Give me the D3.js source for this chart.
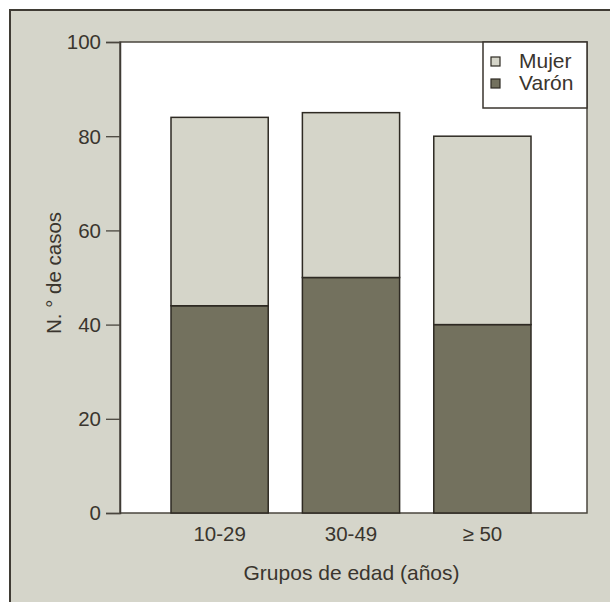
<!DOCTYPE html>
<html>
<head>
<meta charset="utf-8">
<script src="https://cdn.jsdelivr.net/npm/d3@7"></script>
<style>
  html, body { margin: 0; padding: 0; background: #ffffff; }
  svg { display: block; }
  text { font-family: "Liberation Sans", Arial, Helvetica, sans-serif; fill: #3a352e; }
</style>
</head>
<body>
<svg id="chart" width="610" height="602"></svg>
<script>
// ---- data ----
const categories = ["10-29", "30-49", "\u2265 50"];
const varon = [44, 50, 40];
const mujer = [40, 35, 40];
const seriesNames = ["Var\u00f3n", "Mujer"];
const yTicks = [0, 20, 40, 60, 80, 100];
const xTitle = "Grupos de edad (a\u00f1os)";
const yTitle = "N. \u00b0 de casos";

// ---- layout ----
const svg = d3.select("#chart");
const W = 610, H = 602;
const panelBg = "#d5d5ca";
const dark = "#2e2a23";
const colVaron = "#73715e";
const colMujer = "#d5d5c9";

const margin = { left: 120, top: 42, right: 610 - 587, bottom: 602 - 513 };
const iw = W - margin.left - margin.right;
const ih = H - margin.top - margin.bottom;

// outer panel
svg.append("rect").attr("x", 10).attr("y", 10).attr("width", W).attr("height", H)
  .attr("fill", panelBg).attr("stroke", "#3f3b34").attr("stroke-width", 2);

const g = svg.append("g").attr("transform", `translate(${margin.left},${margin.top})`);

const x = d3.scaleBand().domain(categories).range([51, iw - 56]).paddingInner(0.26).paddingOuter(0);
const y = d3.scaleLinear().domain([0, 100]).range([ih, 0]);

// plot background
g.append("rect").attr("x", 0).attr("y", 0).attr("width", iw).attr("height", ih)
  .attr("fill", "#ffffff").attr("stroke", "#4a463e").attr("stroke-width", 1.5);

// stacked data
const table = categories.map((c, i) => ({ cat: c, "Var\u00f3n": varon[i], "Mujer": mujer[i] }));
const stack = d3.stack().keys(seriesNames)(table);
const colors = { "Var\u00f3n": colVaron, "Mujer": colMujer };

g.selectAll("g.layer").data(stack).join("g").attr("class", "layer")
  .attr("fill", d => colors[d.key])
  .selectAll("rect").data(d => d).join("rect")
  .attr("x", d => x(d.data.cat))
  .attr("y", d => y(d[1]))
  .attr("width", x.bandwidth())
  .attr("height", d => y(d[0]) - y(d[1]))
  .attr("stroke", dark).attr("stroke-width", 1.5);

// y axis
const yAxis = d3.axisLeft(y).tickValues(yTicks).tickSize(14).tickPadding(5);
const ya = g.append("g").call(yAxis);
ya.select(".domain").attr("stroke", "#3f3b34").attr("stroke-width", 1.5);
ya.selectAll(".tick line").attr("stroke", "#4a463e").attr("stroke-width", 1.3);
ya.selectAll(".tick text").style("font-size", "20.5px").attr("fill", "#3a352e").attr("dy", "0.34em");

// x axis (labels only)
const xAxis = d3.axisBottom(x).tickSize(0).tickPadding(13);
const xa = g.append("g").attr("transform", `translate(0,${ih})`).call(xAxis);
xa.select(".domain").remove();
xa.selectAll(".tick text").style("font-size", "20.5px").attr("fill", "#3a352e");

// titles
svg.append("text").attr("x", margin.left + iw / 2 - 2).attr("y", 580)
  .attr("text-anchor", "middle").style("font-size", "21px").text(xTitle);
svg.append("text").attr("transform", `translate(61,${273}) rotate(-90)`)
  .attr("text-anchor", "middle").style("font-size", "20.5px").text(yTitle);

// legend
const lx = 483, ly = 42, lw = 104, lh = 66;
const leg = svg.append("g");
leg.append("rect").attr("x", lx).attr("y", ly).attr("width", lw).attr("height", lh)
  .attr("fill", "#ffffff").attr("stroke", "#3a352e").attr("stroke-width", 1.5);
const legItems = ["Mujer", "Var\u00f3n"];
legItems.forEach((name, i) => {
  const yy = ly + 15 + i * 22;
  leg.append("rect").attr("x", lx + 8).attr("y", yy).attr("width", 9).attr("height", 9)
    .attr("fill", colors[name]).attr("stroke", dark).attr("stroke-width", 1.2);
  leg.append("text").attr("x", lx + 36).attr("y", yy + 11).style("font-size", "21px").text(name);
});
</script>
</body>
</html>
